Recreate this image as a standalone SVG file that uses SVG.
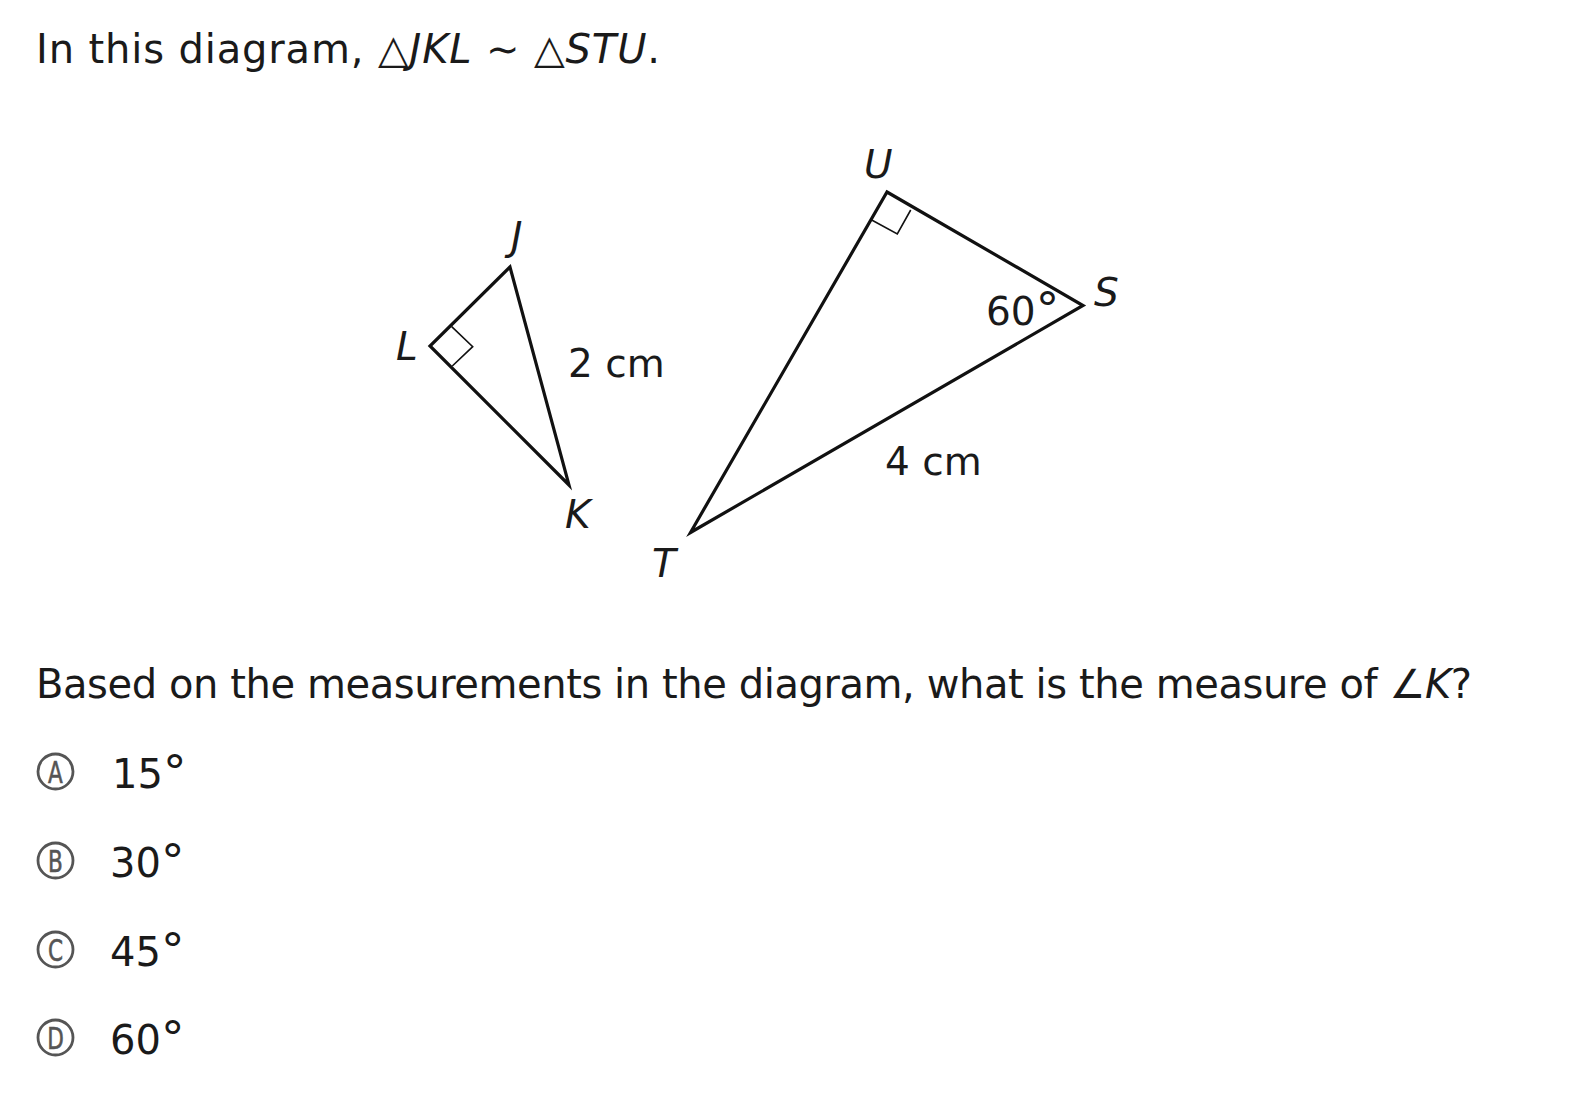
<svg xmlns="http://www.w3.org/2000/svg" width="1576" height="1112" viewBox="0 0 1576 1112">
<style>
text{font-family:"DejaVu Sans","Liberation Sans",sans-serif;fill:#1a1a1a;font-size:40px}
.it{font-style:italic}
.lbl{font-size:39px}
.deg{font-size:47px}
.tri{fill:none;stroke:#111;stroke-width:3.2;stroke-linejoin:miter}
.ra{fill:none;stroke:#111;stroke-width:1.6}
.bub{fill:none;stroke:#555;stroke-width:2.8}
.bl{font-size:30px;fill:#555;text-anchor:middle;stroke:#555;stroke-width:0.6}
</style>
<rect width="1576" height="1112" fill="#fff"/>
<text x="36" y="63" textLength="624" lengthAdjust="spacing">In this diagram, △<tspan class="it">JKL</tspan> ∼ △<tspan class="it">STU</tspan>.</text>
<g id="triangle-JKL">
<polygon class="tri" points="510,267 430,346 569,485"/>
<polyline class="ra" points="451.7,326.7 472.7,346.7 452.3,366"/>
<text class="lbl it" x="511" y="250">J</text>
<text class="lbl it" x="396" y="360">L</text>
<text class="lbl it" x="565" y="528">K</text>
<text class="lbl" x="568" y="377">2 cm</text>
</g>
<g id="triangle-STU">
<polygon class="tri" points="887,192 1083,305.5 690.5,532.5"/>
<polyline class="ra" points="871.7,220 897.3,234 910.7,210"/>
<text class="lbl it" x="864" y="178">U</text>
<text class="lbl it" x="1094" y="306">S</text>
<text class="lbl it" x="652" y="577">T</text>
<text class="lbl" x="986" y="325">60<tspan class="deg">°</tspan></text>
<text class="lbl" x="885" y="475">4 cm</text>
</g>
<text x="36" y="698" textLength="1436" lengthAdjust="spacing">Based on the measurements in the diagram, what is the measure of ∠<tspan class="it">K</tspan>?</text>
<g id="choice-A"><circle class="bub" cx="55.5" cy="771.5" r="17.5"/><text class="bl" transform="translate(55.5 782.5) scale(0.72 1)">A</text><text x="112" y="788">15<tspan class="deg">°</tspan></text></g>
<g id="choice-B"><circle class="bub" cx="55.5" cy="860.5" r="17.5"/><text class="bl" transform="translate(55.5 871.5) scale(0.72 1)">B</text><text x="110" y="877">30<tspan class="deg">°</tspan></text></g>
<g id="choice-C"><circle class="bub" cx="55.5" cy="949.5" r="17.5"/><text class="bl" transform="translate(55.5 960.5) scale(0.72 1)">C</text><text x="110" y="966">45<tspan class="deg">°</tspan></text></g>
<g id="choice-D"><circle class="bub" cx="55.5" cy="1037.5" r="17.5"/><text class="bl" transform="translate(55.5 1048.5) scale(0.72 1)">D</text><text x="110" y="1054">60<tspan class="deg">°</tspan></text></g>
</svg>
